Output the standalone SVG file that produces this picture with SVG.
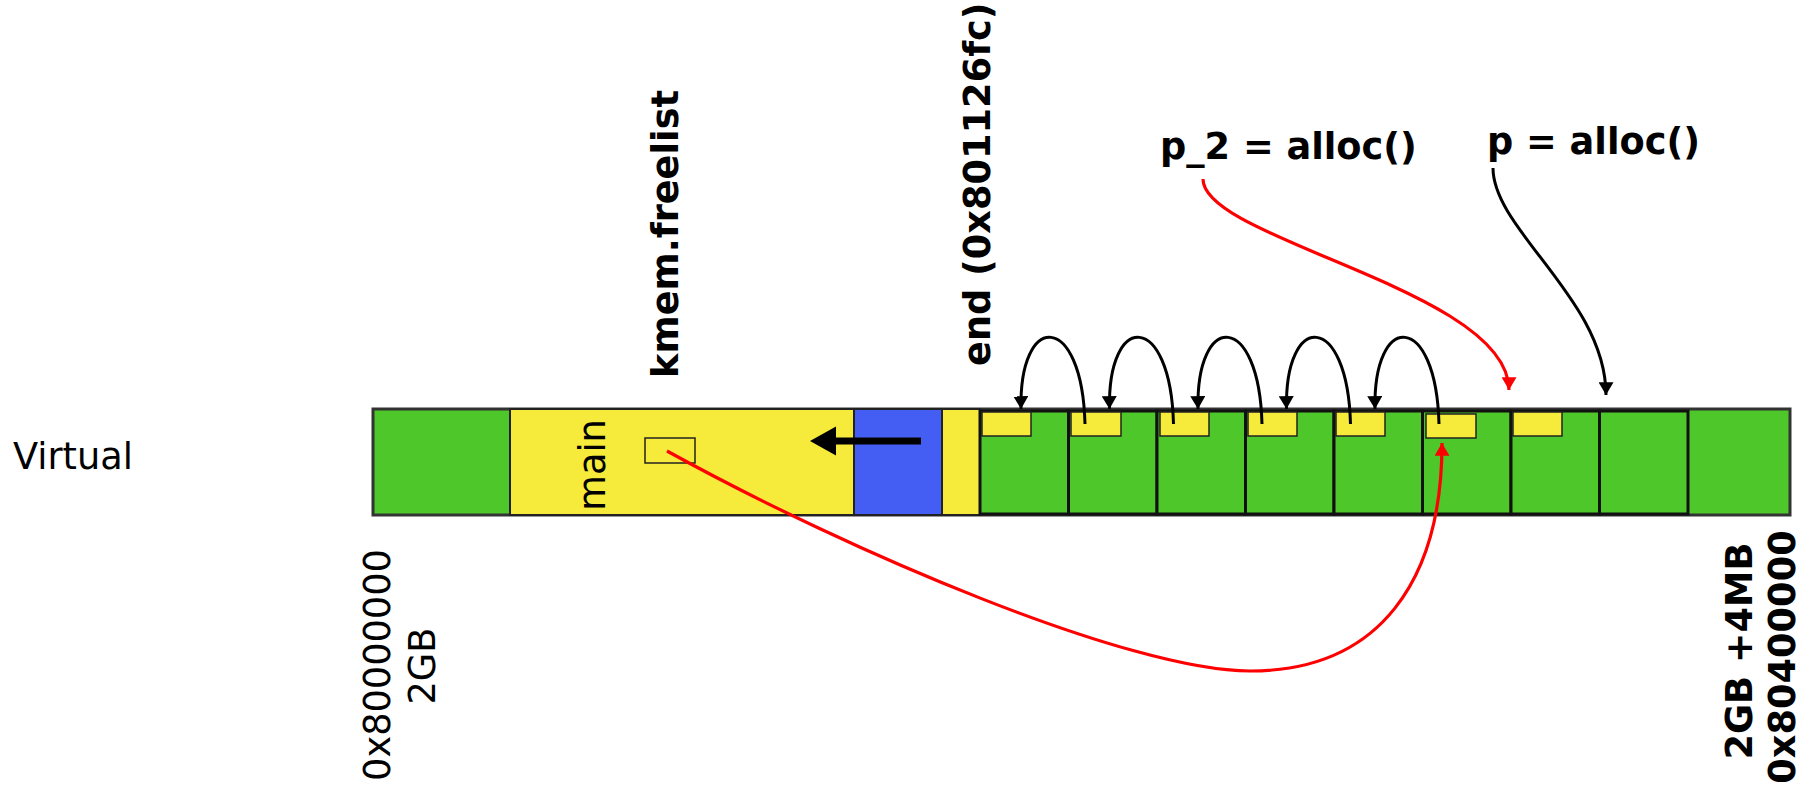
<svg xmlns="http://www.w3.org/2000/svg" width="1814" height="786" viewBox="0 0 1814 786">
<style>
.t{font-family:"DejaVu Sans",sans-serif;font-size:36.7px;fill:#000}
.b{font-weight:bold}
.green{fill:#4ec72b}
.yel{fill:#f6ea3a}
.blk{fill:#4ec72b;stroke:#111;stroke-width:3}
.slot{fill:#f6ea3a;stroke:#222;stroke-width:1.5}
.arc{fill:none;stroke:#000;stroke-width:3}
.red{fill:none;stroke:#ff0000;stroke-width:3.2}
</style>
<defs>
<marker id="ab" markerUnits="userSpaceOnUse" markerWidth="15" markerHeight="15" viewBox="0 0 12 14" refX="12" refY="7" orient="auto"><path d="M0,0 L12,7 L0,14 z" fill="#000"/></marker>
<marker id="ar" markerUnits="userSpaceOnUse" markerWidth="15" markerHeight="15" viewBox="0 0 12 14" refX="12" refY="7" orient="auto"><path d="M0,0 L12,7 L0,14 z" fill="#ff0000"/></marker>
</defs>
<rect width="1814" height="786" fill="#fff"/>
<g id="bar">
<rect x="373" y="409" width="1417" height="106" class="green" stroke="#333" stroke-width="3"/>
</g>
<g id="main">
<rect x="510" y="409" width="344" height="106" class="yel" stroke="#222" stroke-width="2"/>
<rect x="645" y="438" width="50" height="25" fill="none" stroke="#222" stroke-width="1.5"/>
<text class="t" transform="translate(605,465) rotate(-90)" text-anchor="middle">main</text>
</g>
<g id="kernel-data">
<rect x="854" y="409" width="88" height="106" fill="#445ef3" stroke="#222" stroke-width="2"/>
<rect x="942" y="409" width="38" height="106" class="yel" stroke="#222" stroke-width="2"/>
</g>
<g id="pages">
<rect x="980" y="411" width="88.5" height="103" class="blk"/>
<rect x="1068.5" y="411" width="88.5" height="103" class="blk"/>
<rect x="1157" y="411" width="88.5" height="103" class="blk"/>
<rect x="1245.5" y="411" width="88.5" height="103" class="blk"/>
<rect x="1334" y="411" width="88.5" height="103" class="blk"/>
<rect x="1422.5" y="411" width="88.5" height="103" class="blk"/>
<rect x="1511" y="411" width="88.5" height="103" class="blk"/>
<rect x="1599.5" y="411" width="88.5" height="103" class="blk"/>
<rect x="982" y="412" width="49" height="24" class="slot"/>
<rect x="1071" y="412" width="50" height="24" class="slot"/>
<rect x="1160" y="412" width="49" height="24" class="slot"/>
<rect x="1248" y="412" width="49" height="24" class="slot"/>
<rect x="1336" y="412" width="49" height="24" class="slot"/>
<rect x="1426" y="414" width="50" height="24" class="slot"/>
<rect x="1513" y="412" width="49" height="24" class="slot"/>
</g>
<g id="labels">
<text class="t" x="13" y="469">Virtual</text>
<text class="t b" transform="translate(678,378) rotate(-90)">kmem.freelist</text>
<text class="t b" transform="translate(990,366) rotate(-90)">end (0x801126fc)</text>
<text class="t" transform="translate(390,665) rotate(-90)" text-anchor="middle">0x80000000</text>
<text class="t" transform="translate(435,666) rotate(-90)" text-anchor="middle">2GB</text>
<text class="t b" transform="translate(1752,651) rotate(-90)" text-anchor="middle">2GB +4MB</text>
<text class="t b" transform="translate(1795,657) rotate(-90)" text-anchor="middle">0x80400000</text>
<text class="t b" x="1160" y="159">p_2 = alloc()</text>
<text class="t b" x="1487" y="154">p = alloc()</text>
</g>
<g id="connectors">
<path d="M921,441 L833,441" stroke="#000" stroke-width="7" fill="none"/>
<polygon points="810,441 836,426.5 836,455.5" fill="#000"/>
<path class="arc" marker-end="url(#ab)" d="M1085,424 C1082,311 1019,311 1021,409"/>
<path class="arc" marker-end="url(#ab)" d="M1173.5,424 C1170.5,311 1107.5,311 1109.5,409"/>
<path class="arc" marker-end="url(#ab)" d="M1262,424 C1259,311 1196,311 1198,409"/>
<path class="arc" marker-end="url(#ab)" d="M1350.5,424 C1347.5,311 1284.5,311 1286.5,409"/>
<path class="arc" marker-end="url(#ab)" d="M1439,424 C1436,311 1373,311 1375,409"/>
<path class="red" marker-end="url(#ar)" d="M1203,179 C1203,240 1509,290 1509,390"/>
<path class="arc" marker-end="url(#ab)" d="M1493,168 C1493,230 1606,300 1606,395"/>
<path class="red" marker-end="url(#ar)" d="M667,451 C850,552 1130,671 1250,671 C1380,671 1442,580 1442,443"/>
</g>
</svg>
